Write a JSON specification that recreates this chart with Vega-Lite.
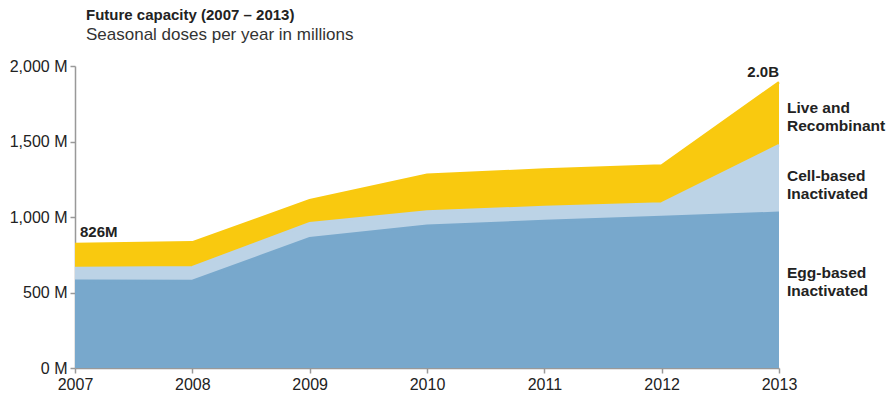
{
  "$schema": "https://vega.github.io/schema/vega-lite/v6.json",
  "width": 704,
  "height": 302,
  "autosize": {"type": "none"},
  "padding": {"left": 75, "top": 66, "right": 111, "bottom": 28},
  "background": "white",
  "config": {
    "view": {"stroke": null},
    "font": "Liberation Sans"
  },
  "title": {
    "text": "Future capacity (2007 – 2013)",
    "subtitle": "Seasonal doses per year in millions",
    "anchor": "start",
    "frame": "group",
    "dx": 11,
    "offset": 15,
    "font": "Liberation Sans",
    "fontSize": 15,
    "fontWeight": "bold",
    "color": "#222222",
    "subtitleFont": "Liberation Sans",
    "subtitleFontSize": 17,
    "subtitleColor": "#333333",
    "subtitlePadding": 4
  },
  "datasets": {
    "capacity": [
      {"year": 2007, "type": "Egg-based Inactivated", "k": 1, "doses": 578},
      {"year": 2008, "type": "Egg-based Inactivated", "k": 1, "doses": 576},
      {"year": 2009, "type": "Egg-based Inactivated", "k": 1, "doses": 860},
      {"year": 2010, "type": "Egg-based Inactivated", "k": 1, "doses": 942},
      {"year": 2011, "type": "Egg-based Inactivated", "k": 1, "doses": 973},
      {"year": 2012, "type": "Egg-based Inactivated", "k": 1, "doses": 1000},
      {"year": 2013, "type": "Egg-based Inactivated", "k": 1, "doses": 1028},
      {"year": 2007, "type": "Cell-based Inactivated", "k": 2, "doses": 84},
      {"year": 2008, "type": "Cell-based Inactivated", "k": 2, "doses": 92},
      {"year": 2009, "type": "Cell-based Inactivated", "k": 2, "doses": 98},
      {"year": 2010, "type": "Cell-based Inactivated", "k": 2, "doses": 95},
      {"year": 2011, "type": "Cell-based Inactivated", "k": 2, "doses": 93},
      {"year": 2012, "type": "Cell-based Inactivated", "k": 2, "doses": 90},
      {"year": 2013, "type": "Cell-based Inactivated", "k": 2, "doses": 448},
      {"year": 2007, "type": "Live and Recombinant", "k": 3, "doses": 160},
      {"year": 2008, "type": "Live and Recombinant", "k": 3, "doses": 164},
      {"year": 2009, "type": "Live and Recombinant", "k": 3, "doses": 153},
      {"year": 2010, "type": "Live and Recombinant", "k": 3, "doses": 243},
      {"year": 2011, "type": "Live and Recombinant", "k": 3, "doses": 248},
      {"year": 2012, "type": "Live and Recombinant", "k": 3, "doses": 251},
      {"year": 2013, "type": "Live and Recombinant", "k": 3, "doses": 417}
    ],
    "sideLabels": [
      {"year": 2013, "label": "Live and\nRecombinant", "value": 1722},
      {"year": 2013, "label": "Cell-based\nInactivated", "value": 1274},
      {"year": 2013, "label": "Egg-based\nInactivated", "value": 626}
    ],
    "totals": [
      {"year": 2007, "label": "826M", "value": 826, "side": "left"},
      {"year": 2013, "label": "2.0B", "value": 1893, "side": "right"}
    ]
  },
  "layer": [
    {
      "data": {"name": "capacity"},
      "mark": {"type": "area", "line": {"color": "white", "strokeWidth": 2.5}},
      "encoding": {
        "x": {
          "field": "year", "type": "quantitative",
          "scale": {"domain": [2007, 2013], "nice": false, "zero": false},
          "axis": {
            "title": null, "format": "d", "values": [2007, 2008, 2009, 2010, 2011, 2012, 2013],
            "labelFlush": false, "labelOverlap": false,
            "grid": false, "domainColor": "#999999", "domainWidth": 1.5, "tickColor": "#999999", "tickWidth": 1.5, "tickSize": 5,
            "labelFont": "Liberation Sans", "labelFontSize": 16, "labelColor": "#222222", "labelPadding": 3
          }
        },
        "y": {
          "field": "doses", "type": "quantitative", "stack": "zero",
          "scale": {"domain": [0, 2000], "nice": false},
          "axis": {
            "title": null, "values": [0, 500, 1000, 1500, 2000],
            "labelExpr": "format(datum.value, ',') + ' M'",
            "labelFlush": false, "labelOverlap": false,
            "grid": false, "domainColor": "#999999", "domainWidth": 1.5, "tickColor": "#999999", "tickWidth": 1.5, "tickSize": 5,
            "labelFont": "Liberation Sans", "labelFontSize": 16, "labelColor": "#222222", "labelPadding": 3
          }
        },
        "color": {
          "field": "type", "type": "nominal",
          "scale": {
            "domain": ["Egg-based Inactivated", "Cell-based Inactivated", "Live and Recombinant"],
            "range": ["#78a8cc", "#bcd3e6", "#f9c90f"]
          },
          "legend": null
        },
        "order": {"field": "k", "type": "quantitative", "sort": "ascending"},
        "opacity": {"value": 1}
      }
    },
    {
      "data": {"name": "sideLabels"},
      "mark": {"type": "text", "align": "left", "baseline": "middle", "dx": 8, "lineBreak": "\n", "lineHeight": 18, "fontSize": 15.5, "fontWeight": "bold", "color": "#222222", "font": "Liberation Sans"},
      "encoding": {
        "x": {"field": "year", "type": "quantitative"},
        "y": {"field": "value", "type": "quantitative"},
        "text": {"field": "label"}
      }
    },
    {
      "data": {"name": "totals"},
      "transform": [{"filter": "datum.side == 'left'"}],
      "mark": {"type": "text", "align": "left", "baseline": "alphabetic", "dx": 5, "dy": -6, "fontSize": 15, "fontWeight": "bold", "color": "#222222", "font": "Liberation Sans"},
      "encoding": {
        "x": {"field": "year", "type": "quantitative"},
        "y": {"field": "value", "type": "quantitative"},
        "text": {"field": "label"}
      }
    },
    {
      "data": {"name": "totals"},
      "transform": [{"filter": "datum.side == 'right'"}],
      "mark": {"type": "text", "align": "right", "baseline": "alphabetic", "dx": 0, "dy": -5, "fontSize": 15, "fontWeight": "bold", "color": "#222222", "font": "Liberation Sans"},
      "encoding": {
        "x": {"field": "year", "type": "quantitative"},
        "y": {"field": "value", "type": "quantitative"},
        "text": {"field": "label"}
      }
    }
  ]
}
